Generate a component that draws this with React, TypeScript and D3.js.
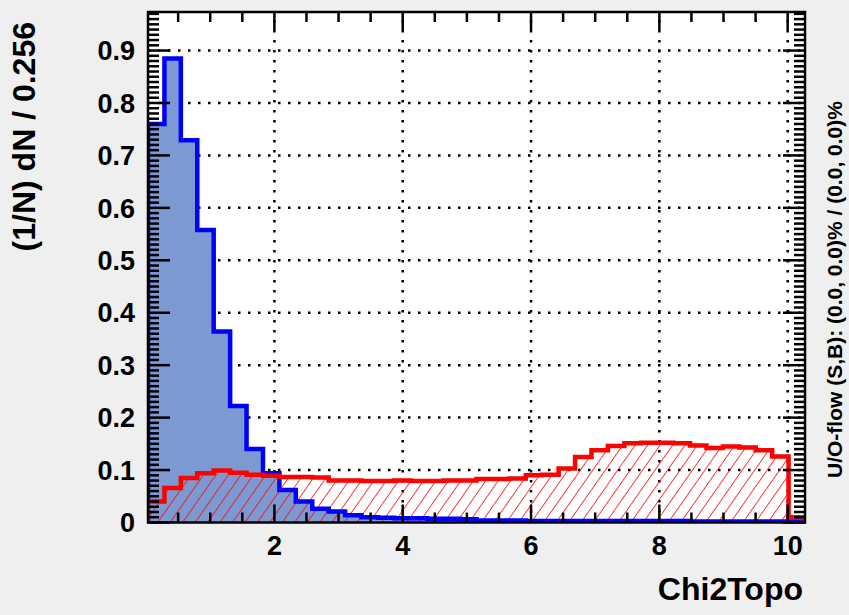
import React from "react";
import * as d3 from "d3";

// Histogram definition
const X_MIN = 0.03;
const BIN_WIDTH = 0.256;
const N_BINS = 40;

// Signal (blue) normalised bin contents
const signalValues: number[] = [
  0.760, 0.885, 0.729, 0.558, 0.364, 0.222, 0.140, 0.094, 0.062, 0.040,
  0.026, 0.021, 0.014, 0.010, 0.009, 0.008, 0.008, 0.007, 0.007, 0.006,
  0.004, 0.004, 0.004, 0.003, 0.003, 0.003, 0.003, 0.003, 0.003, 0.003,
  0.003, 0.003, 0.003, 0.002, 0.002, 0.002, 0.002, 0.002, 0.002, 0.002,
];

// Background (red) normalised bin contents
const backgroundValues: number[] = [
  0.040, 0.066, 0.085, 0.094, 0.099, 0.095, 0.091, 0.089, 0.087, 0.087,
  0.086, 0.080, 0.080, 0.079, 0.079, 0.080, 0.079, 0.079, 0.080, 0.080,
  0.083, 0.083, 0.084, 0.090, 0.091, 0.103, 0.125, 0.138, 0.146, 0.151,
  0.152, 0.152, 0.151, 0.147, 0.142, 0.145, 0.143, 0.138, 0.126, 0.010,
];

const xMajorTicks = [2, 4, 6, 8, 10];
const yMajorTicks = [0, 0.1, 0.2, 0.3, 0.4, 0.5, 0.6, 0.7, 0.8, 0.9];
const yTickLabels = ["0", "0.1", "0.2", "0.3", "0.4", "0.5", "0.6", "0.7", "0.8", "0.9"];

const X_TITLE = "Chi2Topo";
const Y_TITLE = "(1/N) dN / 0.256";
const OVERFLOW_TEXT = "U/O-flow (S,B): (0.0, 0.0)% / (0.0, 0.0)%";

const W = 849;
const H = 615;
const FONT = "'Liberation Sans', Arial, Helvetica, sans-serif";

export default function App() {
  const X_MAX = X_MIN + BIN_WIDTH * N_BINS;
  const left = 148, right = 805, top = 12, bottom = 522.5;
  const yMax = d3.max(signalValues)! * 1.1;
  const x = d3.scaleLinear().domain([X_MIN, X_MAX]).range([left, right]);
  const y = d3.scaleLinear().domain([0, yMax]).range([bottom, top]);

  const toPts = (vals: number[]) => {
    const pts: [number, number][] = [[X_MIN, 0]];
    vals.forEach((v, i) => pts.push([X_MIN + i * BIN_WIDTH, v]));
    pts.push([X_MAX, vals[vals.length - 1]]);
    pts.push([X_MAX, 0]);
    return pts;
  };
  const line = d3
    .line<[number, number]>()
    .x((d) => x(d[0]))
    .y((d) => y(d[1]))
    .curve(d3.curveStepAfter);
  const area = d3
    .area<[number, number]>()
    .x((d) => x(d[0]))
    .y0(y(0))
    .y1((d) => y(d[1]))
    .curve(d3.curveStepAfter);

  const sigPts = toPts(signalValues);
  const bkgPts = toPts(backgroundValues);

  const xMinor = d3.range(0.5, 10.01, 0.5).filter((v) => Math.abs(v / 2 - Math.round(v / 2)) > 1e-6);
  const yMinor = d3.range(0, Math.round(yMax * 100) + 1).map((i) => i / 100).filter((v) => v <= yMax && Math.abs(v * 10 - Math.round(v * 10)) > 1e-6);

  const dot = { stroke: "#000", strokeWidth: 2.5, strokeDasharray: "2.5 7.5" };

  return (
    <svg
      width={W}
      height={H}
      style={{ position: "absolute", left: 0, top: 0, background: "#efefef" }}
      fontFamily={FONT}
    >
      <defs>
        <pattern id="hatch" width={10.2} height={10.2} patternUnits="userSpaceOnUse" patternTransform="rotate(35)">
          <line x1={0} y1={0} x2={0} y2={10.2} stroke="#ff0000" strokeWidth={1.5} />
        </pattern>
        <clipPath id="frameClip">
          <rect x={left} y={top} width={right - left} height={bottom - top} />
        </clipPath>
      </defs>
      <rect x={0} y={0} width={W} height={H} fill="#efefef" />
      <rect x={left} y={top} width={right - left} height={bottom - top} fill="#ffffff" />

      {/* grid */}
      <g>
        {xMajorTicks.map((t) => (
          <line key={"gx" + t} x1={x(t)} x2={x(t)} y1={bottom} y2={top} {...dot} />
        ))}
        {yMajorTicks.filter((t) => t > 0).map((t) => (
          <line key={"gy" + t} x1={left} x2={right} y1={y(t)} y2={y(t)} {...dot} />
        ))}
      </g>

      <g clipPath="url(#frameClip)">
        <path d={area(sigPts)!} fill="#7d99d1" />
        <path d={area(bkgPts)!} fill="url(#hatch)" />
        <path d={line(sigPts)!} fill="none" stroke="#0000ff" strokeWidth={4.5} />
        <path d={line(bkgPts)!} fill="none" stroke="#ff0000" strokeWidth={4.5} />
      </g>

      {/* frame */}
      <rect x={left} y={top} width={right - left} height={bottom - top} fill="none" stroke="#000" strokeWidth={2.5} />

      {/* x ticks bottom and top */}
      {xMajorTicks.map((t) => (
        <g key={"xt" + t}>
          <line x1={x(t)} x2={x(t)} y1={bottom} y2={bottom - 18} stroke="#000" strokeWidth={2.5} />
          <line x1={x(t)} x2={x(t)} y1={top} y2={top + 18} stroke="#000" strokeWidth={2.5} />
          <text x={x(t)} y={555} textAnchor="middle" fontSize={27} fontWeight="bold" fill="#000">
            {t}
          </text>
        </g>
      ))}
      {xMinor.map((t) => (
        <g key={"xm" + t}>
          <line x1={x(t)} x2={x(t)} y1={bottom} y2={bottom - 10} stroke="#000" strokeWidth={2.5} />
          <line x1={x(t)} x2={x(t)} y1={top} y2={top + 10} stroke="#000" strokeWidth={2.5} />
        </g>
      ))}

      {/* y ticks left and right */}
      {yMajorTicks.map((t, i) => (
        <g key={"yt" + t}>
          <line x1={left} x2={left + 22} y1={y(t)} y2={y(t)} stroke="#000" strokeWidth={2.5} />
          <line x1={right} x2={right - 22} y1={y(t)} y2={y(t)} stroke="#000" strokeWidth={2.5} />
          <text x={135} y={y(t)} dy="0.36em" textAnchor="end" fontSize={27} fontWeight="bold" fill="#000">
            {yTickLabels[i]}
          </text>
        </g>
      ))}
      {yMinor.map((t) => (
        <g key={"ym" + t}>
          <line x1={left} x2={left + 11} y1={y(t)} y2={y(t)} stroke="#000" strokeWidth={2.5} />
          <line x1={right} x2={right - 11} y1={y(t)} y2={y(t)} stroke="#000" strokeWidth={2.5} />
        </g>
      ))}

      {/* titles */}
      <text x={803} y={600} textAnchor="end" fontSize={32} fontWeight="bold" fill="#000">
        {X_TITLE}
      </text>
      <text
        transform={`translate(35, 22) rotate(-90)`}
        textAnchor="end"
        fontSize={32}
        fontWeight="bold"
        fill="#000"
      >
        {Y_TITLE}
      </text>
      <text
        transform={`translate(842, 478) rotate(-90)`}
        textAnchor="start"
        fontSize={21}
        fontWeight="bold"
        fill="#000"
      >
        {OVERFLOW_TEXT}
      </text>
    </svg>
  );
}
